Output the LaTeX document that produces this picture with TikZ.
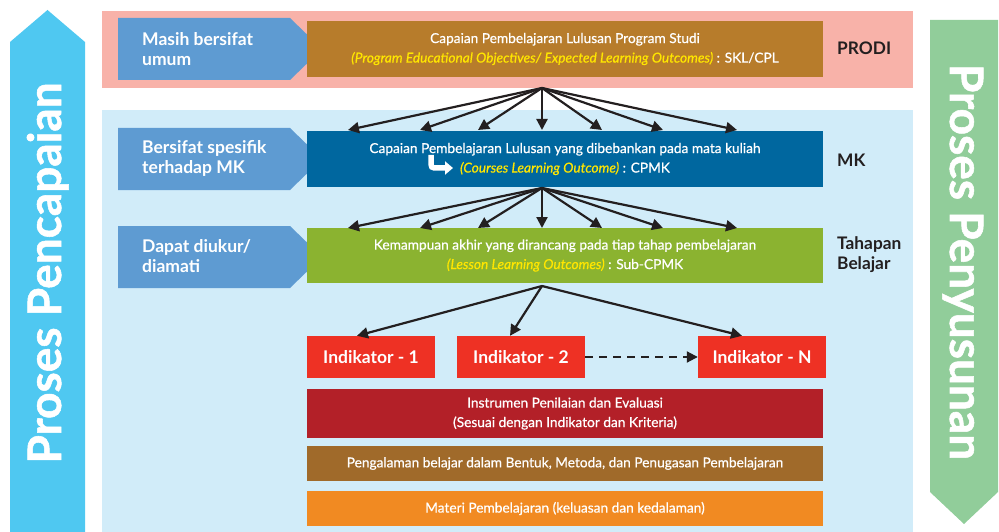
\documentclass[tikz,border=0pt]{standalone}
\usepackage{fontspec}
\setmainfont{Lato}
\newfontfamily\latomed{Lato}[FakeBold=0.6]
\newfontfamily\latoheavy{Lato}[BoldFeatures={FakeBold=1.2}]
\usetikzlibrary{arrows.meta}
\tikzset{
  level-box/.style={
    minimum width=516,
    minimum height=56,
    inner sep=0pt,
    text=white,
    align=center,
    font=\latomed\fontsize{13.7}{19.5}\selectfont
  },
  base-box/.style={level-box, minimum height=35},
  ind-box/.style={fill=indred, minimum width=128, minimum height=42, inner sep=0pt,
    text=white, font=\bfseries\fontsize{17.5}{20}\selectfont},
  tag-text/.style={anchor=west, inner sep=0pt, text=white, align=left,
    font=\bfseries\fontsize{17.5}{20}\selectfont},
  level-label/.style={anchor=west, inner sep=0pt, text=labelgray, align=left,
    font=\bfseries\fontsize{17.3}{20}\selectfont},
  side-text/.style={anchor=base, inner sep=0pt, text=white,
    font=\latoheavy\bfseries\fontsize{46}{46}\selectfont},
  fan/.style={line width=2.2, draw=labelgray, -{Triangle[length=11,width=11]}},
  fan-dashed/.style={fan, line width=2, dash pattern=on 8 off 6}
}
\definecolor{bandpink}{RGB}{248,178,169}
\definecolor{bandblue}{RGB}{209,236,249}
\definecolor{sidecyan}{RGB}{79,200,241}
\definecolor{sidegreen}{RGB}{145,205,154}
\definecolor{tagblue}{RGB}{94,155,210}
\definecolor{cplbrown}{RGB}{183,124,43}
\definecolor{cpmkblue}{RGB}{0,103,159}
\definecolor{subgreen}{RGB}{139,179,48}
\definecolor{indred}{RGB}{238,49,36}
\definecolor{instred}{RGB}{179,32,40}
\definecolor{expbrown}{RGB}{160,106,42}
\definecolor{matorange}{RGB}{241,138,34}
\definecolor{hiyellow}{RGB}{255,230,0}
\definecolor{labelgray}{RGB}{35,31,32}
\newcommand{\tagshape}[1]{% pentagon tag, top edge at y = #1
  \fill[tagblue] (118,#1) -- ++(172,0) -- ++(32,31) -- ++(-32,31) -- ++(-172,0) -- cycle;
}
\newcommand{\hl}[1]{\textit{\textcolor{hiyellow}{#1}}}

\begin{document}
\begin{tikzpicture}[x=1pt, y=-1pt]
  \useasboundingbox (0,0) rectangle (999,532);

  % 1. Side arrows
  \fill[sidecyan] (10,532) -- (10,42) -- (47.5,10) -- (85,42) -- (85,532) -- cycle;
  \node[side-text, rotate=90] (pencapaian) at (61,273) {Proses Pencapaian};
  \fill[sidegreen] (930,20) -- (998,20) -- (998,492) -- (964,524) -- (930,492) -- cycle;
  \node[side-text, rotate=-90] (penyusunan) at (950,262) {Proses Penyusunan};

  % 2. Background bands
  \fill[bandpink] (102,11) rectangle (913,88);
  \fill[bandblue] (102,110) rectangle (913,532);

  % 3. Tags on the left
  \tagshape{18}
  \tagshape{128}
  \tagshape{226}
  \node[tag-text] (tag-umum) at (142,49) {Masih bersifat\\umum};
  \node[tag-text] (tag-mk) at (142,158) {Bersifat spesifik\\terhadap MK};
  \node[tag-text] (tag-ukur) at (142,256) {Dapat diukur/\\diamati};

  % 4. Learning outcome levels
  \node[level-box, fill=cplbrown] (cpl) at (565,49)
    {Capaian Pembelajaran Lulusan Program Studi\\
     \hl{(Program Educational Objectives/ Expected Learning Outcomes)} : SKL/CPL};
  \node[level-box, fill=cpmkblue] (cpmk) at (565,159)
    {Capaian Pembelajaran Lulusan yang dibebankan pada mata kuliah\\
     \hl{(Courses Learning Outcome)} : CPMK};
  \node[level-box, fill=subgreen, minimum height=55] (subcpmk) at (565,255.5)
    {Kemampuan akhir yang dirancang pada tiap tahap pembelajaran\\
     \hl{(Lesson Learning Outcomes)} : Sub-CPMK};

  % small white turn arrow in front of the CPMK line
  \draw[white, line width=5.5, -{Triangle[length=8,width=13]}]
    (431,155) -- (431,160) .. controls (431,168) .. (438,168) -- (453,168);

  % level names on the right
  \node[level-label] (prodi) at (837,48) {PRODI};
  \node[level-label] (mk) at (837,160) {MK};
  \node[level-label] (tahapan) at (837,255) {Tahapan\\Belajar};

  % 5. Fans of arrows between the levels
  \coordinate (cpl-out) at (542,88);
  \coordinate (cpmk-out) at (542,188);
  \coordinate (sub-out) at (542,286);
  \foreach \tx [count=\i] in {348,420,478,542,602,663,737}{
    \coordinate (cpmk-in-\i) at (\tx,130);
    \coordinate (sub-in-\i) at (\tx,228);
    \draw[fan] (cpl-out) -- (cpmk-in-\i);
    \draw[fan] (cpmk-out) -- (sub-in-\i);
  }

  % 6. Indicators
  \node[ind-box] (ind-1) at (371,357) {Indikator - 1};
  \node[ind-box] (ind-2) at (521,357) {Indikator - 2};
  \node[ind-box] (ind-n) at (762,357) {Indikator - N};
  \draw[fan] (sub-out) -- ([xshift=-14]ind-1.north);
  \draw[fan] (sub-out) -- ([xshift=-11]ind-2.north);
  \draw[fan] (sub-out) -- ([xshift=-20]ind-n.north);
  \draw[fan-dashed] (ind-2.east) -- (ind-n.west);

  % 7. Bottom layers
  \node[level-box, fill=instred, minimum height=49] (instrumen) at (565,413.5)
    {Instrumen Penilaian dan Evaluasi\\(Sesuai dengan Indikator dan Kriteria)};
  \node[base-box, fill=expbrown] (pengalaman) at (565,463.5)
    {Pengalaman belajar dalam Bentuk, Metoda, dan Penugasan Pembelajaran};
  \node[base-box, fill=matorange] (materi) at (565,508.5)
    {Materi Pembelajaran (keluasan dan kedalaman)};

\end{tikzpicture}
\end{document}
